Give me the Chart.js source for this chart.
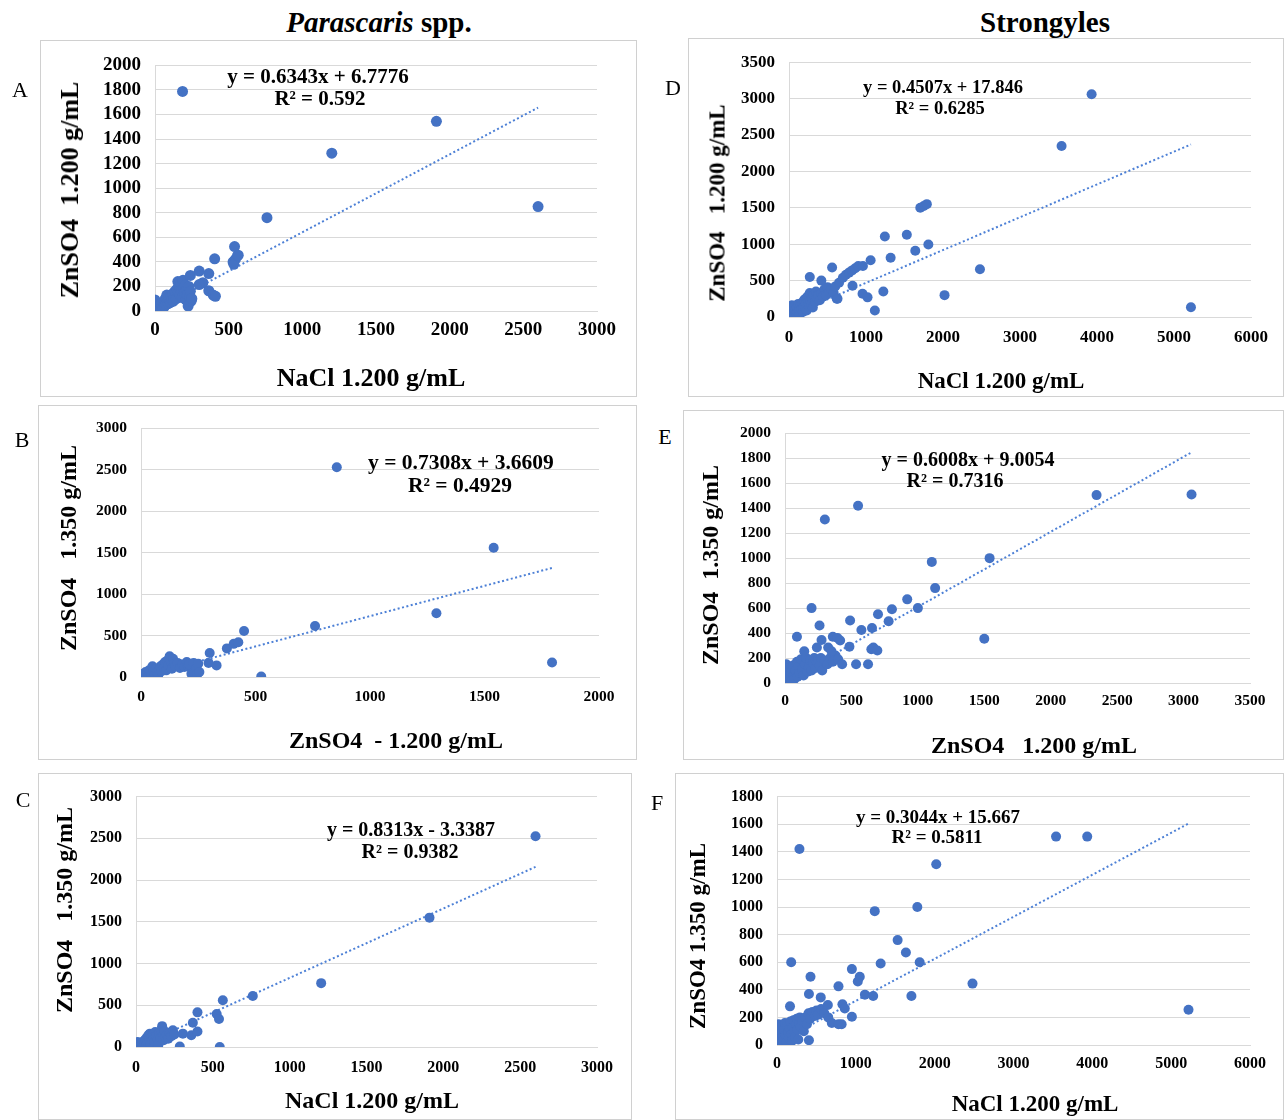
<!DOCTYPE html>
<html>
<head>
<meta charset="utf-8">
<title>Parascaris spp. / Strongyles – flotation comparisons</title>
<script src="https://cdn.jsdelivr.net/npm/chart.js"></script>
<style>
    body { margin: 0; background: #fff; }
    #fig { position: relative; width: 1284px; height: 1120px; overflow: hidden; background: #fff;
           font-family: "Liberation Serif", "Times New Roman", serif; color: #000; }
    .frame { position: absolute; border: 1px solid #d0d0d0; box-sizing: border-box; }
    canvas { position: absolute; }
    .txt { position: absolute; transform: translate(-50%, -50%); white-space: pre; line-height: 1; }
    .txt.vert { transform: translate(-50%, -50%) rotate(-90deg); }
    .head { font-weight: bold; font-size: 29px; }
    .letter { font-size: 22px; }
    .eq, .axt { font-weight: bold; }
</style>
</head>
<body>
<div id="fig">
    <div class="txt head" style="left:379px; top:22px;"><i>Parascaris</i> spp.</div>
    <div class="txt head" style="left:1045px; top:22px;">Strongyles</div>
</div>
<script>
// egg counts per sample, [x, y] pairs
const parascarisA = [
    [0,0],[5,10],[10,5],[15,20],[0,30],[8,60],[0,90],[20,15],[25,40],[30,25],[35,10],[40,55],
    [45,30],[50,45],[55,20],[60,70],[65,40],[70,100],[75,55],[80,130],[85,80],[90,60],[95,110],
    [100,90],[105,70],[110,120],[115,95],[120,140],[125,80],[130,110],[135,160],[140,125],
    [145,100],[150,180],[155,240],[160,150],[165,200],[170,130],[175,220],[180,170],[185,110],
    [190,250],[195,190],[200,150],[205,210],[210,90],[215,170],[220,130],[225,40],[230,200],
    [235,120],[240,160],[245,80],[250,100],
    [240,290],[300,325],[365,305],[325,230],[300,215],[365,165],[395,130],[410,120],[405,425],
    [530,400],[545,420],[535,380],[560,450],[540,525],[565,455],[760,760],[1200,1285],
    [1910,1545],[2600,850],[187,1788]
];
const parascarisB = [
    [0,0],[5,20],[10,40],[15,10],[20,60],[25,30],[30,5],[35,80],[40,50],[45,20],[50,130],
    [55,70],[60,40],[65,100],[70,60],[75,20],[80,90],[85,130],[90,70],[95,150],[100,110],
    [105,180],[110,80],[115,200],[120,140],[125,250],[130,190],[135,100],[140,220],[145,160],
    [150,130],[160,170],[170,110],[180,150],[190,120],[200,180],[205,130],[210,150],[220,40],
    [225,20],[230,170],[240,100],[245,30],[250,160],[255,60],
    [300,290],[295,170],[330,140],[375,345],[405,400],[425,420],[450,555],[525,5],[760,615],
    [855,2530],[1290,770],[1540,1560],[1795,175]
];
const parascarisC = [
    [0,0],[5,30],[10,60],[15,10],[20,40],[25,5],[30,20],[40,50],[45,10],[50,70],[55,30],
    [60,90],[65,15],[70,110],[75,60],[80,140],[85,90],[90,160],[95,40],[100,120],[105,80],
    [110,150],[115,100],[120,60],[125,180],[130,130],[140,90],[145,20],[150,160],[160,110],
    [165,200],[170,250],[175,140],[180,80],[185,190],[190,120],[200,150],[210,100],[220,170],
    [230,130],[240,200],[250,150],
    [285,5],[305,160],[360,140],[370,290],[400,185],[400,415],[525,395],[540,335],[545,0],
    [565,560],[760,610],[1205,765],[1910,1550],[2600,2525]
];
const strongylesD = [
    [0,0],[10,30],[20,10],[30,60],[15,120],[35,160],[40,20],[50,80],[60,40],[60,130],[70,150],
    [80,100],[90,50],[100,130],[110,70],[120,180],[130,90],[140,40],[150,160],[160,110],
    [170,200],[180,70],[190,140],[200,240],[210,120],[220,180],[230,90],[240,280],[250,200],
    [260,150],[270,330],[280,220],[290,170],[300,260],[310,130],[320,300],[340,210],[350,350],
    [360,260],[380,300],[400,230],[420,330],[440,280],[460,380],[480,300],[500,410],[520,340],
    [550,380],[580,330],[600,420],[620,250],[650,470],
    [700,540],[740,580],[780,610],[820,640],[860,670],[900,700],[960,700],
    [270,550],[420,500],[560,680],[630,250],[825,430],[955,320],[1020,270],[1225,350],
    [1115,90],[1245,1105],[1530,1130],[1640,910],[1810,995],[1320,815],[1060,780],
    [1705,1500],[1750,1525],[1790,1550],[2020,300],[2480,655],[3540,2350],[3930,3060],[5220,135]
];
const strongylesE = [
    [0,0],[5,40],[10,150],[15,20],[20,80],[25,10],[30,120],[40,50],[45,90],[50,20],[60,140],
    [65,60],[70,30],[80,100],[90,170],[95,50],[100,130],[110,80],[120,190],[130,110],[140,60],
    [150,150],[160,200],[170,90],[180,130],[190,180],[200,100],[210,160],[220,200],[230,120],
    [240,170],[250,190],[260,140],[270,200],[280,100],[300,180],[320,150],[340,200],[360,170],
    [380,220],[400,190],
    [90,370],[145,255],[200,600],[240,285],[260,460],[275,345],[300,1310],[325,285],[350,255],
    [360,370],[395,360],[415,340],[430,150],[485,290],[490,500],[535,150],[550,1420],[575,425],
    [625,150],[655,440],[650,270],[665,285],[695,260],[700,550],[780,495],[805,590],[920,670],
    [1000,600],[1105,970],[1130,760],[1500,355],[1540,1000],[2345,1505],[3060,1510]
];
const strongylesF = [
    [0,0],[10,40],[20,150],[30,20],[40,90],[50,10],[60,130],[70,60],[80,30],[90,110],[100,160],
    [110,70],[120,20],[130,140],[140,90],[150,50],[160,120],[170,170],[180,80],[190,30],
    [200,130],[210,180],[220,100],[230,60],[240,150],[250,190],[260,110],[270,40],[280,160],
    [290,200],[300,130],[320,180],[340,100],[360,200],[380,150],[400,230],[405,35],[420,190],
    [450,240],[480,210],[500,250],[520,220],[560,260],[600,230],[650,200],
    [165,280],[180,600],[285,1420],[405,370],[425,495],[555,345],[645,290],[695,160],[780,150],
    [780,425],[820,150],[830,295],[860,265],[950,205],[950,550],[1025,460],[1050,495],
    [1115,365],[1220,355],[1240,970],[1315,590],[1530,760],[1635,670],[1705,355],[1780,1000],
    [1810,600],[2020,1310],[2480,445],[3540,1510],[3935,1510],[5220,255]
];

// linear fits: [slope, intercept, R²]
const fitA = [0.6343, 6.7776, '0.592'];
const fitB = [0.7308, 3.6609, '0.4929'];
const fitC = [0.8313, -3.3387, '0.9382'];
const fitD = [0.4507, 17.846, '0.6285'];
const fitE = [0.6008, 9.0054, '0.7316'];
const fitF = [0.3044, 15.667, '0.5811'];

// axis ranges: [max, step]
const axisA = [[3000, 500], [2000, 200]];
const axisB = [[2000, 500], [3000, 500]];
const axisC = [[3000, 500], [3000, 500]];
const axisD = [[6000, 1000], [3500, 500]];
const axisE = [[3500, 500], [2000, 200]];
const axisF = [[6000, 1000], [1800, 200]];

const BLUE = '#4472c4';
const TREND = '#4d80d6';
const GRID = '#d9d9d9';
const SERIF = '"Liberation Serif", "Times New Roman", serif';

const panels = [
    { letter: 'A', lx: 20, ly: 90, pts: parascarisA, fit: fitA, axis: axisA,
      box: [40, 40, 597, 357], area: [155, 59, 597, 311], tick: 19, gapY: 14, gapX: 8,
      yTitle: ['ZnSO4  1.200 g/mL', 70, 190], xTitle: ['NaCl 1.200 g/mL', 371, 378], title: 26, r: 5.5,
      eq: [318, 76, 320, 98, 21] },
    { letter: 'B', lx: 22, ly: 440, pts: parascarisB, fit: fitB, axis: axisB,
      box: [38, 405, 599, 355], area: [141, 426, 599, 677], tick: 15.5, gapY: 14, gapX: 11,
      yTitle: ['ZnSO4   1.350 g/mL', 68, 548], xTitle: ['ZnSO4  - 1.200 g/mL', 396, 740], title: 24, r: 5,
      eq: [461, 463, 460, 486, 21.5] },
    { letter: 'C', lx: 23, ly: 800, pts: parascarisC, fit: fitC, axis: axisC,
      box: [38, 773, 594, 347], area: [136, 791, 597, 1047], tick: 16, gapY: 14, gapX: 11,
      yTitle: ['ZnSO4   1.350 g/mL', 64, 910], xTitle: ['NaCl 1.200 g/mL', 372, 1100], title: 24, r: 5,
      eq: [411, 829, 410, 851, 20] },
    { letter: 'D', lx: 673, ly: 88, pts: strongylesD, fit: fitD, axis: axisD,
      box: [688, 38, 596, 359], area: [789, 58, 1251, 317], tick: 17, gapY: 14, gapX: 10,
      yTitle: ['ZnSO4   1.200 g/mL', 717, 203], xTitle: ['NaCl 1.200 g/mL', 1001, 380], title: 23, r: 5,
      eq: [943, 87, 940, 108, 18.5] },
    { letter: 'E', lx: 665, ly: 437, pts: strongylesE, fit: fitE, axis: axisE,
      box: [683, 410, 601, 350], area: [785, 428, 1250, 683], tick: 15.5, gapY: 14, gapX: 9,
      yTitle: ['ZnSO4  1.350 g/mL', 710, 565], xTitle: ['ZnSO4   1.200 g/mL', 1034, 745], title: 24, r: 5,
      eq: [968, 459, 955, 480, 20] },
    { letter: 'F', lx: 657, ly: 803, pts: strongylesF, fit: fitF, axis: axisF,
      box: [675, 773, 609, 347], area: [777, 791, 1250, 1045], tick: 16, gapY: 14, gapX: 9,
      yTitle: ['ZnSO4 1.350 g/mL', 697, 936], xTitle: ['NaCl 1.200 g/mL', 1035, 1103], title: 23, r: 5,
      eq: [938, 816, 937, 836, 19] }
];

const fig = document.getElementById('fig');

function addText(cls, x, y, text, size) {
    const el = document.createElement('div');
    el.className = 'txt ' + cls;
    el.style.left = x + 'px';
    el.style.top = y + 'px';
    if (size) el.style.fontSize = size + 'px';
    el.textContent = text;
    fig.appendChild(el);
}

function axisOpts(p, range, horizontal, sizeFix) {
    return {
        type: 'linear',
        position: horizontal ? 'bottom' : 'left',
        min: 0,
        max: range[0],
        ticks: {
            stepSize: range[1],
            autoSkip: false,
            maxRotation: 0,
            padding: horizontal ? p.gapX : p.gapY,
            color: '#000',
            font: { family: SERIF, size: p.tick, weight: 'bold' },
            callback: v => String(v)
        },
        grid: { display: !horizontal, color: GRID, lineWidth: 1, drawTicks: false },
        border: { display: true, color: GRID, width: 1 },
        afterFit: sizeFix
    };
}

function drawPanel(p) {
    const [bx, by, bw, bh] = p.box;
    const [al, at, ar, ab] = p.area;

    const frame = document.createElement('div');
    frame.className = 'frame';
    Object.assign(frame.style, { left: bx + 'px', top: by + 'px', width: bw + 'px', height: bh + 'px' });
    fig.appendChild(frame);

    const cv = document.createElement('canvas');
    cv.width = bw;
    cv.height = bh;
    cv.style.left = bx + 'px';
    cv.style.top = by + 'px';
    fig.appendChild(cv);

    // fixed scale sizes so the plot area lands where it should
    const yWidth = al - bx;
    const xHeight = by + bh - ab;

    const xs = p.pts.map(d => d[0]);
    const x0 = Math.min(...xs);
    const x1 = Math.max(...xs);
    const [m, c] = p.fit;

    new Chart(cv, {
        type: 'scatter',
        data: {
            datasets: [{
                data: p.pts.map(d => ({ x: d[0], y: d[1] })),
                backgroundColor: BLUE,
                borderWidth: 0,
                pointRadius: p.r,
                pointHoverRadius: p.r,
                order: 0
            }, {
                // trendline sits underneath the markers
                data: [{ x: x0, y: m * x0 + c }, { x: x1, y: m * x1 + c }],
                showLine: true,
                borderColor: TREND,
                borderWidth: 2,
                borderDash: [2, 2.5],
                pointRadius: 0,
                order: 1
            }]
        },
        options: {
            responsive: false,
            animation: false,
            layout: {
                padding: { left: 0, right: bx + bw - ar, top: at - by, bottom: 0 }
            },
            plugins: { legend: { display: false }, tooltip: { enabled: false } },
            scales: {
                x: axisOpts(p, p.axis[0], true, s => { s.height = xHeight; }),
                y: axisOpts(p, p.axis[1], false, s => { s.width = yWidth; })
            }
        }
    });

    addText('axt vert', p.yTitle[1], p.yTitle[2], p.yTitle[0], p.title);
    addText('axt', p.xTitle[1], p.xTitle[2], p.xTitle[0], p.title);

    const sign = c < 0 ? ' - ' : ' + ';
    addText('eq', p.eq[0], p.eq[1], 'y = ' + m.toFixed(4) + 'x' + sign + Math.abs(c), p.eq[4]);
    addText('eq', p.eq[2], p.eq[3], 'R² = ' + p.fit[2], p.eq[4]);
    addText('letter', p.lx, p.ly, p.letter);
}

panels.forEach(drawPanel);
</script>
</body>
</html>
